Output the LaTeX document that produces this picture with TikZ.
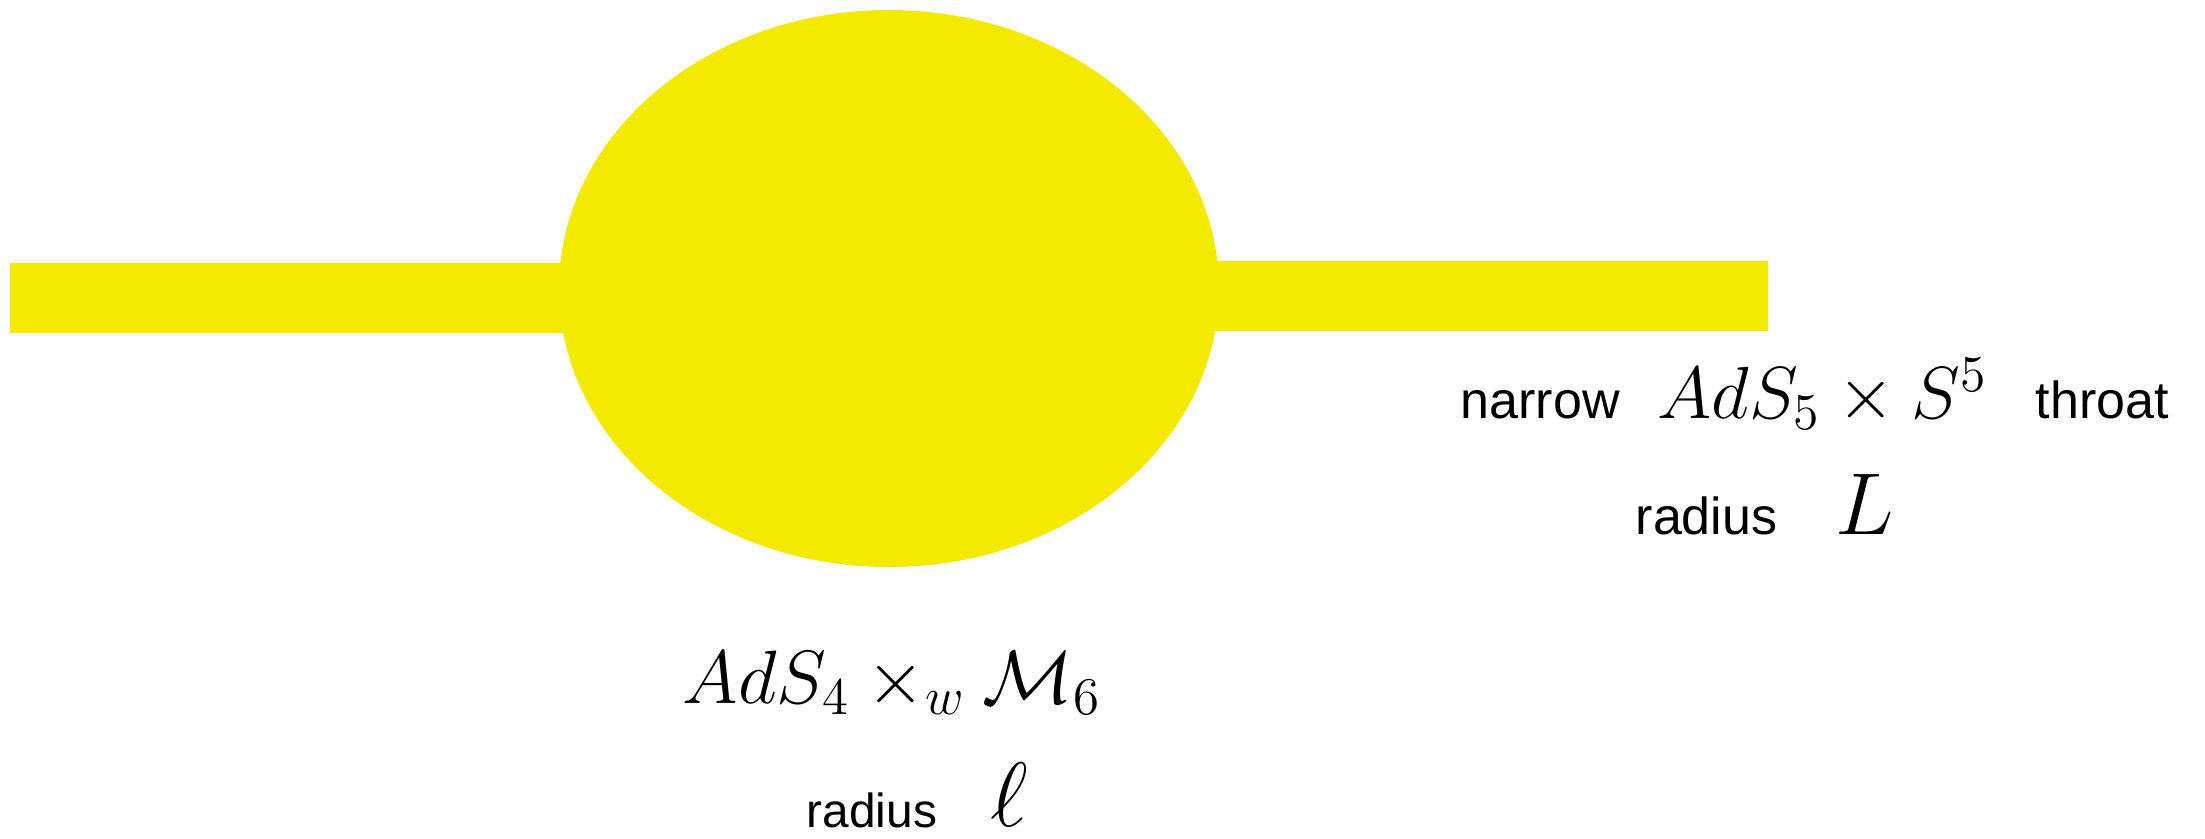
\RequirePackage{fix-cm}
\documentclass[tikz,border=0pt]{standalone}
\usepackage{fontspec}
\newfontfamily\labelfont{Liberation Sans}
\definecolor{blob}{HTML}{F4EA00}
\tikzset{
  word/.style={anchor=base west, inner sep=0pt, font=\labelfont\fontsize{14.8}{18}\selectfont},
  smallword/.style={anchor=base west, inner sep=0pt, font=\labelfont\fontsize{13.6}{16}\selectfont},
  mathtext/.style={anchor=base west, inner sep=0pt, font=\fontsize{21}{25}\selectfont},
  bigmath/.style={anchor=base west, inner sep=0pt, font=\fontsize{25}{30}\selectfont},
}
\begin{document}
\begin{tikzpicture}[x=0.01cm, y=-0.01cm]
\useasboundingbox (0,0) rectangle (2205,838);
% tubes and bubble
\fill[blob] (10,263) rectangle (700,333);
\fill[blob] (1080,261) rectangle (1768,331);
\fill[blob] (889,288.5) ellipse [x radius=330, y radius=278.5];
% throat labels
\node[word] (narrow) at (1460,418) {narrow};
\node[mathtext] (ads5) at (1657,418) {$AdS_5 \times S^5$};
\node[word] (throat) at (2035,418) {throat};
\node[word] (radL) at (1635,534) {radius};
\node[bigmath] (L) at (1835,534) {$L$};
% bubble labels
\node[mathtext, font=\fontsize{21.5}{26}\selectfont] (ads4) at (682,703) {$AdS_4 \times_w \mathcal{M}_6$};
\node[smallword] (radl) at (806,827) {radius};
\node[bigmath, font=\fontsize{26}{30}\selectfont] (ell) at (990,826) {$\ell$};
\end{tikzpicture}
\end{document}
